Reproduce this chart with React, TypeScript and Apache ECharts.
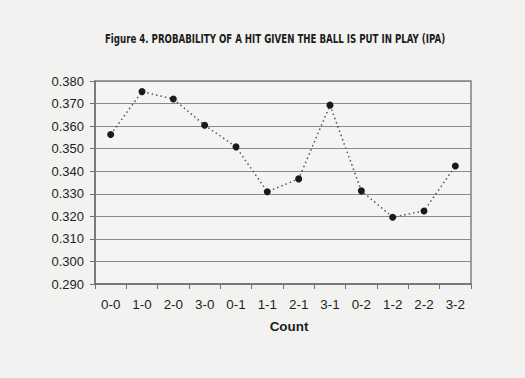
import React, { useEffect, useRef } from "react";
import * as echarts from "echarts";

const categories = ["0-0", "1-0", "2-0", "3-0", "0-1", "1-1", "2-1", "3-1", "0-2", "1-2", "2-2", "3-2"];
const ipaValues = [0.3563, 0.3753, 0.3720, 0.3604, 0.3508, 0.3309, 0.3366, 0.3693, 0.3313, 0.3196, 0.3224, 0.3423];
const titleText = "Figure 4. PROBABILITY OF A HIT GIVEN THE BALL IS PUT IN PLAY (IPA)";
const xAxisName = "Count";

export default function App() {
  const ref = useRef<HTMLDivElement>(null);
  useEffect(() => {
    if (!ref.current) return;
    const chart = echarts.init(ref.current, null, { renderer: "svg" });
    chart.setOption({
      animation: false,
      backgroundColor: "#f2f2f1",
      graphic: [
        {
          type: "text",
          x: 275,
          y: 39,
          scaleX: 0.77,
          style: {
            text: titleText,
            x: 0,
            y: 0,
            align: "center",
            verticalAlign: "middle",
            fontFamily: "'DejaVu Sans Condensed', 'DejaVu Sans', sans-serif",
            fontWeight: "bold",
            fontSize: 12.5,
            fill: "#1c1c1c",
          },
        },
      ],
      grid: {
        left: 95,
        top: 81,
        width: 376,
        height: 203,
        show: true,
        borderColor: "#808080",
        borderWidth: 1.5,
        backgroundColor: "#f4f4f3",
      },
      xAxis: {
        type: "category",
        data: categories,
        boundaryGap: true,
        axisLine: { lineStyle: { color: "#707070", width: 1.5 } },
        axisTick: { show: true, alignWithLabel: false, length: 5, lineStyle: { color: "#707070" } },
        axisLabel: {
          color: "#1e1e1e",
          fontFamily: "'Liberation Sans', Arial, sans-serif",
          fontSize: 13.4,
          margin: 14,
        },
        name: xAxisName,
        nameLocation: "middle",
        nameGap: 36,
        nameTextStyle: {
          color: "#1e1e1e",
          fontFamily: "'Liberation Sans', Arial, sans-serif",
          fontSize: 13.4,
          fontWeight: "bold",
          padding: [0, 0, 0, 12],
        },
      },
      yAxis: {
        type: "value",
        min: 0.29,
        max: 0.38,
        interval: 0.01,
        axisLine: { show: true, lineStyle: { color: "#707070", width: 1.5 } },
        axisTick: { show: true, length: 5, lineStyle: { color: "#707070" } },
        splitLine: { show: true, lineStyle: { color: "#8a8a8a", width: 1.2 } },
        axisLabel: {
          color: "#1e1e1e",
          fontFamily: "'Liberation Sans', Arial, sans-serif",
          fontSize: 13,
          margin: 11,
          formatter: (v: number) => v.toFixed(3),
        },
      },
      series: [
        {
          type: "line",
          data: ipaValues,
          symbol: "circle",
          symbolSize: 7,
          itemStyle: { color: "#1a1a1a" },
          lineStyle: { color: "#555", width: 1.5, type: [1.5, 3] },
        },
      ],
    });
    return () => chart.dispose();
  }, []);
  return (
    <div
      ref={ref}
      style={{ position: "fixed", left: 0, top: 0, width: 525, height: 378 }}
    />
  );
}
